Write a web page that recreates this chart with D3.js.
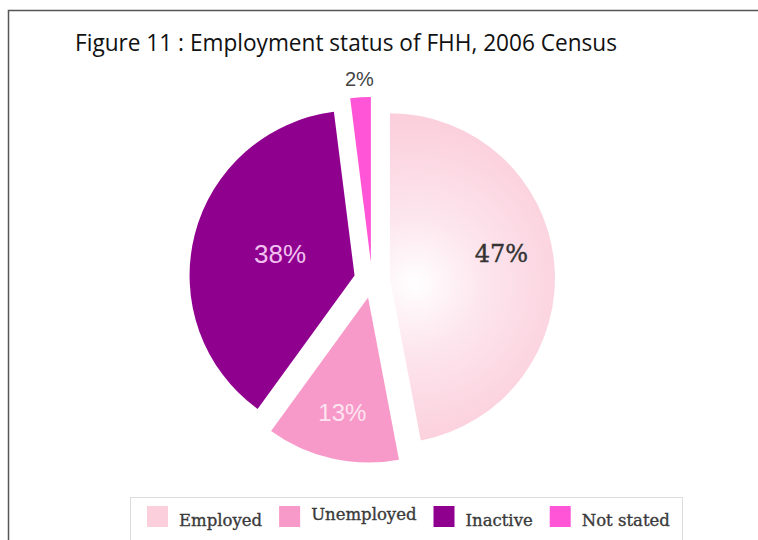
<!DOCTYPE html>
<html>
<head>
<meta charset="utf-8">
<script src="https://cdn.jsdelivr.net/npm/d3@7/dist/d3.min.js"></script>
<style>
body { margin: 0; background: #fff; }
</style>
</head>
<body>
<script>
// chart values
const title = "Figure 11 : Employment status of FHH, 2006 Census"
const categories = ["Employed", "Unemployed", "Inactive", "Not stated"]
const shares = [47, 13, 38, 2]
const sliceLabels = ["47%", "13%", "38%", "2%"]

// look
const colours = ["#fbcfdc", "#f89ac9", "#8f008f", "#ff55d6"]
const labelFill = ["#333333", "#fde4f1", "#f2c0f0", "#444444"]
const labelFont = ["DejaVu Serif", "Liberation Sans", "Liberation Sans", "Liberation Sans"]
const labelSize = [24, 24, 26, 20]
const labelR = [112, 118, 77, 182]      // distance of each label from its slice tip
const labelDy = [-12, 2, 0, 0]

const width = 758
const height = 540
const cx = 372, cy = 280, radius = 165, explode = 18

const svg = d3.select('body')
    .append('svg')
    .attr('width', width)
    .attr('height', height)

// frame (runs off the right and bottom like the scan)
svg.append('rect')
    .attr('x', 8.5).attr('y', 10.5)
    .attr('width', 800).attr('height', 600)
    .attr('fill', 'none')
    .attr('stroke', '#555')
    .attr('stroke-width', 1.5)

svg.append('text')
    .attr('x', 75).attr('y', 51)
    .attr('font-family', 'Open Sans, Noto Sans, sans-serif')
    .attr('font-size', 24)
    .attr('fill', '#111')
    .attr('textLength', 542)
    .attr('lengthAdjust', 'spacingAndGlyphs')
    .text(title)

// gradient for the big slice
const defs = svg.append('defs')
const grad = defs.append('radialGradient')
    .attr('id', 'empGrad')
    .attr('gradientUnits', 'userSpaceOnUse')
    .attr('cx', 25).attr('cy', 5).attr('r', radius)
grad.append('stop').attr('offset', '0%').attr('stop-color', '#ffffff')
grad.append('stop').attr('offset', '40%').attr('stop-color', '#fde6ee')
grad.append('stop').attr('offset', '100%').attr('stop-color', colours[0])

const pie = d3.pie().sort(null).value(d => d)
const arcs = pie(shares)
const arc = d3.arc().innerRadius(0).outerRadius(radius)

const g = svg.append('g').attr('transform', 'translate(' + cx + ',' + cy + ')')

const slices = g.selectAll('.slice')
    .data(arcs)
    .enter().append('g')
    .attr('class', 'slice')
    .attr('transform', function(d){
        let mid = (d.startAngle + d.endAngle) / 2
        return 'translate(' + (Math.sin(mid) * explode) + ',' + (-Math.cos(mid) * explode) + ')'
    })

slices.append('path')
    .attr('d', arc)
    .attr('fill', (d, i) => i === 0 ? 'url(#empGrad)' : colours[i])

slices.append('text')
    .attr('x', (d, i) => Math.sin((d.startAngle + d.endAngle) / 2) * labelR[i])
    .attr('y', (d, i) => -Math.cos((d.startAngle + d.endAngle) / 2) * labelR[i] + labelDy[i])
    .attr('text-anchor', 'middle')
    .attr('dominant-baseline', 'middle')
    .attr('font-family', (d, i) => labelFont[i])
    .attr('font-size', (d, i) => labelSize[i])
    .attr('fill', (d, i) => labelFill[i])
    .attr('stroke', (d, i) => i === 0 ? labelFill[i] : 'none')
    .attr('stroke-width', 0.4)
    .text((d, i) => sliceLabels[i])

// legend
const legend = svg.append('g')
legend.append('rect')
    .attr('x', 130.5).attr('y', 497.5)
    .attr('width', 552).attr('height', 60)
    .attr('fill', '#fff')
    .attr('stroke', '#dcdcdc')

let lx = 147
categories.forEach(function(c, i){
    legend.append('rect')
        .attr('x', lx).attr('y', 506)
        .attr('width', 21).attr('height', 21)
        .attr('fill', colours[i])
    let t = legend.append('text')
        .attr('x', lx + 32)
        .attr('y', i === 1 ? 520 : 526)
        .attr('font-family', 'DejaVu Serif, serif')
        .attr('font-size', 16.5)
        .attr('fill', '#3a3a3a')
        .attr('stroke', '#3a3a3a')
        .attr('stroke-width', 0.35)
        .text(c)
    lx = lx + 32 + t.node().getComputedTextLength() + 17
})
</script>
</body>
</html>
